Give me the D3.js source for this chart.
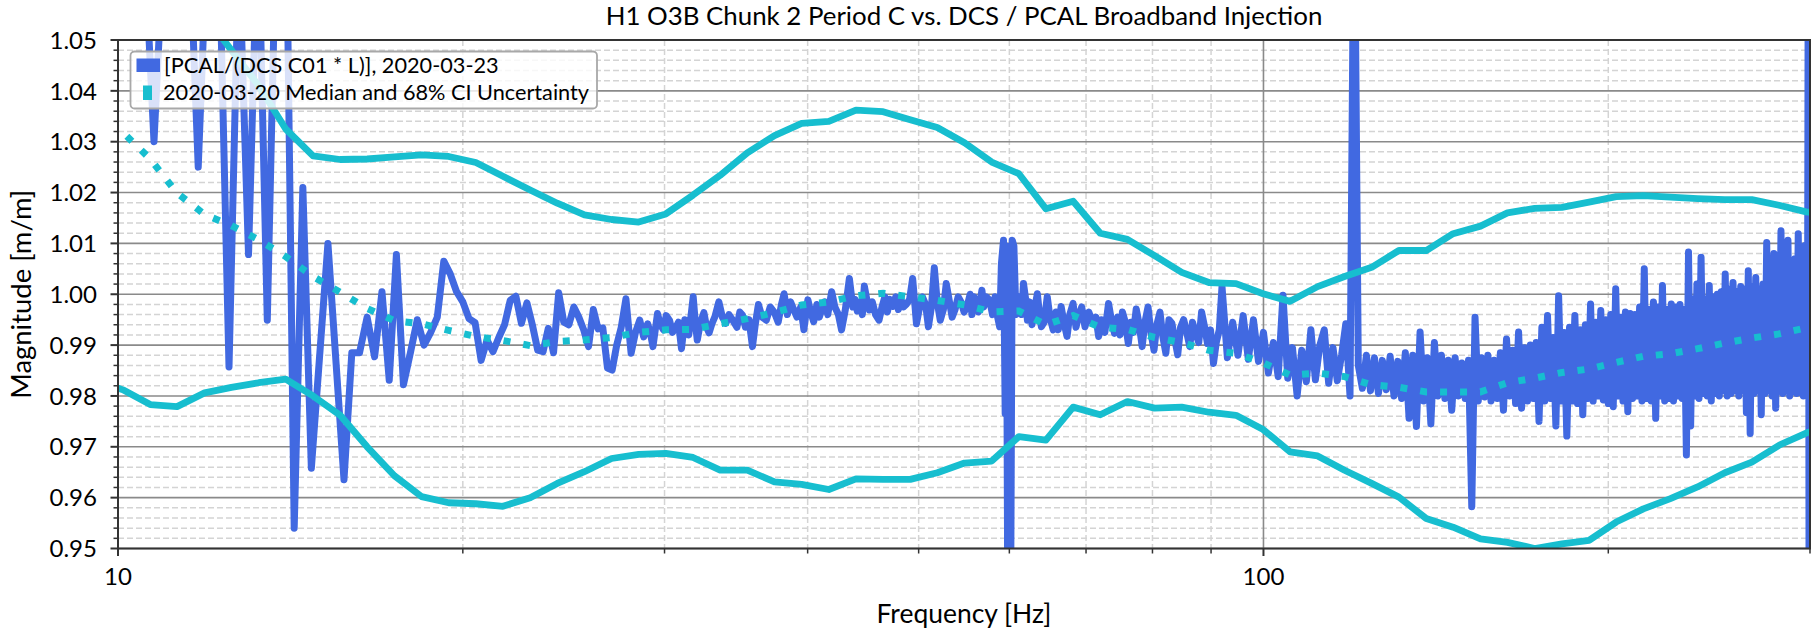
<!DOCTYPE html>
<html>
<head>
<meta charset="utf-8">
<script src="https://cdn.jsdelivr.net/npm/d3@7"></script>
<style>
  body { margin: 0; background: #fff; }
  svg { display: block; }
  text { font-family: Lato, "Noto Sans", sans-serif; fill: #000; }
</style>
</head>
<body>
<svg id="chart" width="1816" height="634"></svg>
<script>
// ---------------- data ----------------
// Broadband sweep ratio PCAL/(DCS C01 * L): [frequency Hz, magnitude m/m]
// 10-27 Hz
const sweepLow = [
  [10.00, 1.0900], [10.25, 1.0850], [10.50, 1.0780], [10.75, 1.0300], [11.00, 1.0760],
  [11.25, 1.0950], [11.50, 1.0800], [11.75, 1.0250], [12.00, 1.0780], [12.25, 1.0700],
  [12.50, 0.9857], [12.75, 1.0680], [13.00, 1.0078], [13.25, 1.0750], [13.50, 0.9949],
  [13.75, 1.0750], [14.00, 1.0900], [14.25, 0.9540], [14.50, 1.0210], [14.75, 0.9658],
  [15.25, 1.0100], [15.75, 0.9635], [16.00, 0.9885], [16.25, 0.9885], [16.50, 0.9955],
  [16.75, 0.9877], [17.00, 1.0005], [17.25, 0.9831], [17.50, 1.0078], [17.75, 0.9822],
  [18.00, 0.9885], [18.25, 0.9950], [18.50, 0.9900], [18.75, 0.9925], [19.00, 0.9955],
  [19.25, 1.0065], [19.50, 1.0040], [19.75, 1.0005], [20.00, 0.9985], [20.25, 0.9952],
  [20.50, 0.9944], [20.75, 0.9870], [21.00, 0.9910], [21.25, 0.9887], [21.50, 0.9915],
  [21.75, 0.9940], [22.00, 0.9988], [22.25, 0.9996], [22.50, 0.9943], [22.75, 0.9983],
  [23.00, 0.9940], [23.25, 0.9890], [23.50, 0.9887], [23.75, 0.9933], [24.00, 0.9885],
  [24.25, 1.0003], [24.50, 0.9945], [24.75, 0.9940], [25.00, 0.9975], [25.25, 0.9955],
  [25.50, 0.9930], [25.75, 0.9897], [26.00, 0.9970], [26.25, 0.9932], [26.50, 0.9934],
  [26.75, 0.9855], [27.00, 0.9851]
];
// 27-60 Hz, including the 60 Hz line
const sweepMid = [
  [27.25, 0.9900], [27.50, 0.9935], [27.76, 0.9991], [28.05, 0.9884], [28.30, 0.9925],
  [28.54, 0.9949], [28.77, 0.9916], [29.00, 0.9942], [29.15, 0.9925], [29.31, 0.9897],
  [29.58, 0.9962], [29.75, 0.9940], [29.94, 0.9930], [30.10, 0.9958], [30.30, 0.9949],
  [30.48, 0.9925], [30.66, 0.9933], [30.85, 0.9945], [31.04, 0.9893], [31.25, 0.9950],
  [31.50, 0.9920], [31.78, 0.9995], [31.90, 0.9950], [32.04, 0.9910], [32.25, 0.9945],
  [32.47, 0.9964], [32.65, 0.9935], [32.81, 0.9924], [33.00, 0.9942], [33.20, 0.9956],
  [33.46, 0.9985], [33.70, 0.9955], [33.94, 0.9943], [34.15, 0.9960], [34.41, 0.9949],
  [34.70, 0.9935], [34.90, 0.9965], [35.09, 0.9959], [35.30, 0.9935], [35.55, 0.9950],
  [35.80, 0.9897], [36.00, 0.9940], [36.23, 0.9980], [36.50, 0.9955], [36.81, 0.9949],
  [37.10, 0.9975], [37.40, 0.9965], [37.70, 0.9945], [37.95, 0.9980], [38.15, 1.0001],
  [38.40, 0.9960], [38.65, 0.9985], [38.91, 0.9969], [39.15, 0.9955], [39.45, 0.9975],
  [39.70, 0.9930], [39.85, 0.9960], [40.02, 0.9989], [40.25, 0.9965], [40.49, 0.9946],
  [40.75, 0.9980], [40.95, 0.9955], [41.14, 0.9969], [41.40, 0.9985], [41.65, 0.9960],
  [41.98, 1.0005], [42.25, 0.9975], [42.55, 0.9960], [42.82, 0.9930], [43.15, 0.9970],
  [43.50, 1.0031], [43.80, 0.9975], [44.00, 0.9990], [44.20, 0.9967], [44.45, 0.9985],
  [44.65, 0.9960], [44.83, 1.0016], [45.05, 0.9990], [45.27, 0.9969], [45.55, 0.9985],
  [45.85, 0.9960], [46.17, 0.9949], [46.45, 0.9975], [46.72, 0.9995], [46.95, 0.9965],
  [47.20, 0.9990], [47.47, 0.9976], [47.75, 0.9995], [48.00, 0.9970], [48.23, 0.9992],
  [48.50, 0.9975], [48.81, 0.9981], [49.10, 0.9990], [49.40, 1.0031], [49.60, 0.9985],
  [49.78, 0.9942], [50.10, 0.9975], [50.38, 0.9995], [50.70, 0.9980], [50.99, 0.9936],
  [51.30, 0.9975], [51.60, 1.0052], [51.90, 0.9985], [52.22, 0.9949], [52.55, 0.9970],
  [52.85, 1.0021], [53.15, 0.9990], [53.48, 0.9955], [53.80, 0.9970], [54.13, 0.9995],
  [54.45, 0.9985], [54.78, 0.9965], [55.10, 0.9975], [55.45, 1.0000], [55.65, 0.9960],
  [55.88, 0.9995], [56.10, 0.9985], [56.40, 0.9965], [56.78, 1.0008], [57.00, 0.9975],
  [57.30, 0.9995], [57.68, 0.9988], [58.00, 0.9960], [58.30, 0.9995], [58.60, 0.9955],
  [58.84, 0.9936], [59.05, 1.0060], [59.30, 1.0106], [59.50, 0.9765], [59.65, 1.0095],
  [59.85, 0.9200], [60.10, 0.9200], [60.35, 1.0106], [60.55, 1.0095]
];
// 60-92 Hz
const sweepUpper = [
  [60.80, 0.9960], [61.24, 0.9995], [61.50, 0.9960], [61.73, 1.0021], [62.00, 0.9990],
  [62.22, 0.9949], [62.50, 0.9985], [62.80, 0.9940], [63.15, 0.9975], [63.48, 1.0001],
  [63.75, 0.9960], [63.99, 0.9936], [64.35, 0.9945], [64.75, 0.9995], [65.10, 0.9955],
  [65.53, 0.9930], [65.90, 0.9965], [66.20, 0.9930], [66.58, 0.9976], [66.95, 0.9945],
  [67.38, 0.9917], [67.75, 0.9960], [68.20, 0.9982], [68.60, 0.9935], [69.01, 0.9960],
  [69.40, 0.9975], [69.85, 0.9936], [70.40, 0.9965], [70.96, 0.9943], [71.40, 0.9955],
  [71.80, 0.9917], [72.20, 0.9950], [72.70, 0.9925], [73.24, 0.9982], [73.65, 0.9950],
  [74.12, 0.9923], [74.60, 0.9955], [74.95, 0.9920], [75.31, 0.9965], [75.75, 0.9945],
  [76.21, 0.9903], [76.60, 0.9945], [77.00, 0.9925], [77.43, 0.9971], [77.90, 0.9940],
  [78.36, 0.9897], [78.80, 0.9945], [79.29, 0.9975], [79.75, 0.9925], [80.25, 0.9890],
  [80.70, 0.9940], [81.22, 0.9965], [81.70, 0.9915], [82.18, 0.9884], [82.70, 0.9950],
  [83.18, 0.9943], [83.70, 0.9910], [84.17, 0.9881], [84.65, 0.9935], [85.18, 0.9950],
  [85.70, 0.9925], [86.23, 0.9897], [86.70, 0.9945], [87.25, 0.9923], [87.80, 0.9905],
  [88.30, 0.9965], [88.85, 0.9935], [89.36, 0.9903], [89.90, 0.9930], [90.44, 0.9864],
  [90.95, 0.9905], [91.50, 0.9930]
];
// 92-298 Hz, one reading per hertz
const sweepHighStartHz = 92;
const sweepHighMag = [
  1.0015, 0.9875, 0.9945, 0.9880, 0.9958, 0.9872, 0.9950, 0.9868, 0.9925, 0.9845,
  0.9905, 0.9838, 0.9998, 0.9835, 0.9895, 0.9800, 0.9890, 0.9828, 0.9930, 0.9832,
  0.9900, 0.9930, 0.9825, 0.9895, 0.9830, 0.9880, 0.9942, 0.9800, 1.0850, 0.9860,
  0.9815, 0.9880, 0.9810, 0.9875, 0.9805, 0.9870, 0.9812, 0.9878, 0.9800, 0.9868,
  0.9795, 0.9885, 0.9756, 0.9880, 0.9740, 0.9926, 0.9790, 0.9875, 0.9745, 0.9905,
  0.9800, 0.9880, 0.9795, 0.9870, 0.9772, 0.9875, 0.9800, 0.9865, 0.9795, 0.9870,
  0.9582, 0.9955, 0.9790, 0.9875, 0.9798, 0.9880, 0.9790, 0.9870, 0.9795, 0.9885,
  0.9772, 0.9912, 0.9800, 0.9890, 0.9785, 0.9926, 0.9776, 0.9895, 0.9790, 0.9900,
  0.9795, 0.9905, 0.9750, 0.9935, 0.9790, 0.9958, 0.9795, 0.9915, 0.9741, 0.9997,
  0.9790, 0.9925, 0.9721, 0.9935, 0.9790, 0.9958, 0.9785, 0.9930, 0.9763, 0.9940,
  0.9795, 0.9981, 0.9790, 0.9945, 0.9800, 0.9968, 0.9792, 0.9950, 0.9785, 0.9960,
  0.9779, 1.0011, 0.9800, 0.9955, 0.9790, 0.9965, 0.9769, 0.9962, 0.9795, 0.9960,
  0.9800, 0.9975, 0.9790, 1.0050, 0.9795, 0.9970, 0.9790, 0.9985, 0.9756, 0.9975,
  0.9800, 1.0017, 0.9790, 0.9970, 0.9795, 0.9981, 0.9790, 0.9975, 0.9800, 0.9980,
  0.9795, 0.9970, 0.9684, 1.0083, 0.9741, 0.9990, 0.9800, 1.0020, 0.9795, 1.0073,
  0.9805, 0.9990, 0.9800, 1.0017, 0.9790, 0.9995, 0.9805, 1.0000, 0.9800, 1.0005,
  0.9810, 1.0040, 0.9800, 1.0010, 0.9805, 1.0023, 0.9810, 1.0005, 0.9800, 1.0015,
  0.9810, 1.0010, 0.9767, 1.0046, 0.9726, 1.0015, 0.9805, 1.0033, 0.9810, 1.0010,
  0.9763, 1.0020, 0.9805, 1.0102, 0.9810, 1.0040, 0.9800, 1.0080, 0.9776, 1.0050,
  0.9810, 1.0125, 0.9805, 1.0060, 0.9815, 1.0106, 0.9800, 1.0050, 0.9810, 1.0070,
  0.9805, 1.0119, 0.9810, 1.0060, 0.9800, 1.0096, 0.9815
];
// Last samples at the top of the band
const sweepEdge = [[298.5, 0.9900], [299.0, 1.0800], [299.5, 0.9200], [300.0, 0.9900]];

// Uncertainty model nodes (Hz) with median and 68% CI bounds
const modelHz = [
  9.564, 10.10, 10.67, 11.26, 11.90, 12.56, 13.27, 14.01, 14.80, 15.63,
  16.50, 17.43, 18.41, 19.44, 20.53, 21.68, 22.90, 24.18, 25.54, 26.97,
  28.48, 30.08, 31.77, 33.55, 35.43, 37.42, 39.52, 41.74, 44.08, 46.55,
  49.16, 51.91, 54.83, 57.91, 61.16, 64.58, 68.21, 72.03, 76.07, 80.34,
  84.85, 89.61, 94.63, 99.94, 105.5, 111.5, 117.7, 124.3, 131.3, 138.7,
  146.4, 154.7, 163.3, 172.5, 182.2, 192.4, 203.2, 214.6, 226.6, 239.3,
  252.8, 266.9, 281.9, 297.7, 314.4
];
const modelUpper = [
  1.0750, 1.0700, 1.0650, 1.0600, 1.0550, 1.0480, 1.0410, 1.0325, 1.0272, 1.0265,
  1.0266, 1.0270, 1.0274, 1.0271, 1.0259, 1.0232, 1.0205, 1.0179, 1.0156, 1.0147,
  1.0142, 1.0158, 1.0195, 1.0234, 1.0278, 1.0312, 1.0336, 1.0340, 1.0362, 1.0359,
  1.0343, 1.0328, 1.0298, 1.0260, 1.0237, 1.0168, 1.0183, 1.0120, 1.0108, 1.0076,
  1.0043, 1.0023, 1.0021, 1.0001, 0.9986, 1.0015, 1.0035, 1.0053, 1.0086, 1.0086,
  1.0119, 1.0134, 1.0160, 1.0169, 1.0171, 1.0181, 1.0192, 1.0194, 1.0191, 1.0188,
  1.0186, 1.0186, 1.0175, 1.0162, 1.0155
];
const modelLower = [
  0.9830, 0.9812, 0.9783, 0.9779, 0.9806, 0.9817, 0.9826, 0.9833, 0.9800, 0.9762,
  0.9700, 0.9643, 0.9602, 0.9590, 0.9588, 0.9583, 0.9600, 0.9628, 0.9651, 0.9677,
  0.9685, 0.9687, 0.9679, 0.9654, 0.9654, 0.9631, 0.9626, 0.9616, 0.9637, 0.9636,
  0.9636, 0.9649, 0.9668, 0.9672, 0.9720, 0.9713, 0.9778, 0.9763, 0.9789, 0.9776,
  0.9778, 0.9768, 0.9762, 0.9734, 0.9690, 0.9682, 0.9654, 0.9628, 0.9601, 0.9559,
  0.9542, 0.9519, 0.9512, 0.9500, 0.9509, 0.9516, 0.9552, 0.9578, 0.9598, 0.9621,
  0.9649, 0.9670, 0.9703, 0.9727, 0.9745
];
const modelMedian = [
  1.0360, 1.0318, 1.0266, 1.0199, 1.0157, 1.0135, 1.0107, 1.0074, 1.0035, 1.0004,
  0.9972, 0.9948, 0.9942, 0.9929, 0.9917, 0.9909, 0.9899, 0.9907, 0.9910, 0.9915,
  0.9925, 0.9930, 0.9931, 0.9942, 0.9952, 0.9964, 0.9979, 0.9985, 0.9997, 1.0002,
  0.9995, 0.9988, 0.9979, 0.9965, 0.9967, 0.9940, 0.9958, 0.9935, 0.9931, 0.9915,
  0.9905, 0.9890, 0.9884, 0.9865, 0.9841, 0.9845, 0.9838, 0.9822, 0.9817, 0.9808,
  0.9808, 0.9808, 0.9826, 0.9835, 0.9846, 0.9853, 0.9866, 0.9878, 0.9883, 0.9893,
  0.9904, 0.9914, 0.9922, 0.9934, 0.9945
];

// Axes ticks and labels
const xMajorTicks = [10, 100];
const xMinorTicks = [20, 30, 40, 50, 60, 70, 80, 90, 200, 300];
const yMajorTicks = [0.95, 0.96, 0.97, 0.98, 0.99, 1.00, 1.01, 1.02, 1.03, 1.04, 1.05];

const titleText = "H1 O3B Chunk 2 Period C vs. DCS / PCAL Broadband Injection";
const xLabelText = "Frequency [Hz]";
const yLabelText = "Magnitude [m/m]";
const legendLabels = ["[PCAL/(DCS C01 * L)], 2020-03-23", "2020-03-20 Median and 68% CI Uncertainty"];

// ---------------- layout ----------------
const C = { blue: "#4169e1", cyan: "#17becf", majorGrid: "#8a8a8a", minorGrid: "#d4d4d4", spine: "#333" };
const box = { left: 118, right: 1810, top: 40, bottom: 548.5 };

const svg = d3.select("#chart");
const x = d3.scaleLog().domain([10, 300]).range([box.left, box.right]);
const y = d3.scaleLinear().domain([0.95, 1.05]).range([box.bottom, box.top]);

svg.append("defs").append("clipPath").attr("id", "plotClip")
  .append("rect").attr("x", box.left).attr("y", box.top)
  .attr("width", box.right - box.left).attr("height", box.bottom - box.top);

// scales a text element's font size so that it spans the given width
function fitWidth(sel, target) {
  const w = sel.node().getComputedTextLength();
  const fs = parseFloat(sel.attr("font-size"));
  sel.attr("font-size", (fs * target / w).toFixed(2));
  return +sel.attr("font-size");
}

// ---------------- grid ----------------
const grid = svg.append("g");
const yMinor = y.ticks(50).filter(v => Math.abs(v * 100 - Math.round(v * 100)) > 1e-6);
grid.selectAll(".ymin").data(yMinor).join("line")
  .attr("x1", box.left).attr("x2", box.right)
  .attr("y1", d => y(d)).attr("y2", d => y(d))
  .attr("stroke", C.minorGrid).attr("stroke-width", 1.5).attr("stroke-dasharray", "6,3");
grid.selectAll(".xmin").data(xMinorTicks).join("line")
  .attr("x1", d => x(d)).attr("x2", d => x(d))
  .attr("y1", box.top).attr("y2", box.bottom)
  .attr("stroke", C.minorGrid).attr("stroke-width", 1.5).attr("stroke-dasharray", "6,3");
grid.selectAll(".ymaj").data(yMajorTicks).join("line")
  .attr("x1", box.left).attr("x2", box.right)
  .attr("y1", d => y(d)).attr("y2", d => y(d))
  .attr("stroke", C.majorGrid).attr("stroke-width", 1.6);
grid.selectAll(".xmaj").data(xMajorTicks).join("line")
  .attr("x1", d => x(d)).attr("x2", d => x(d))
  .attr("y1", box.top).attr("y2", box.bottom)
  .attr("stroke", C.majorGrid).attr("stroke-width", 1.6);

// ---------------- series ----------------
const sweep = sweepLow.concat(sweepMid, sweepUpper,
    sweepHighMag.map((v, i) => [sweepHighStartHz + i, v]), sweepEdge)
  .sort((a, b) => a[0] - b[0]);
const upper = modelHz.map((f, i) => [f, modelUpper[i]]);
const lower = modelHz.map((f, i) => [f, modelLower[i]]);
const median = modelHz.map((f, i) => [f, modelMedian[i]]);

const line = d3.line().x(d => x(d[0])).y(d => y(d[1]));
const plot = svg.append("g").attr("clip-path", "url(#plotClip)");

plot.append("path").datum(sweep).attr("d", line)
  .attr("fill", "none").attr("stroke", C.blue).attr("stroke-width", 7)
  .attr("stroke-linejoin", "round").attr("stroke-linecap", "round");
[upper, lower].forEach(band => {
  plot.append("path").datum(band).attr("d", line)
    .attr("fill", "none").attr("stroke", C.cyan).attr("stroke-width", 6.8)
    .attr("stroke-linejoin", "round");
});
plot.append("path").datum(median).attr("d", line)
  .attr("fill", "none").attr("stroke", C.cyan).attr("stroke-width", 7)
  .attr("stroke-dasharray", "7,13");

// ---------------- axes ----------------
const axes = svg.append("g");

// frame
axes.append("rect").attr("x", box.left).attr("y", box.top)
  .attr("width", box.right - box.left).attr("height", box.bottom - box.top)
  .attr("fill", "none").attr("stroke", C.spine).attr("stroke-width", 2);

// y ticks
axes.selectAll(".ytm").data(yMinor).join("line")
  .attr("x1", box.left - 4.5).attr("x2", box.left)
  .attr("y1", d => y(d)).attr("y2", d => y(d)).attr("stroke", C.spine).attr("stroke-width", 1.5);
axes.selectAll(".ytM").data(yMajorTicks).join("line")
  .attr("x1", box.left - 7.5).attr("x2", box.left)
  .attr("y1", d => y(d)).attr("y2", d => y(d)).attr("stroke", C.spine).attr("stroke-width", 2);
const yLabels = axes.selectAll(".ytl").data(yMajorTicks).join("text")
  .attr("x", box.left - 21).attr("y", d => y(d)).attr("dy", "0.36em")
  .attr("text-anchor", "end").attr("font-size", 23)
  .text(d => d3.format(".2f")(d));
const tickSize = fitWidth(yLabels.filter((d, i) => i === yMajorTicks.length - 1), 47.5);
yLabels.attr("font-size", tickSize);

// x ticks
axes.selectAll(".xtm").data(xMinorTicks).join("line")
  .attr("x1", d => x(d)).attr("x2", d => x(d))
  .attr("y1", box.bottom).attr("y2", box.bottom + 5).attr("stroke", C.spine).attr("stroke-width", 1.5);
axes.selectAll(".xtM").data(xMajorTicks).join("line")
  .attr("x1", d => x(d)).attr("x2", d => x(d))
  .attr("y1", box.bottom).attr("y2", box.bottom + 7.5).attr("stroke", C.spine).attr("stroke-width", 2);
axes.selectAll(".xtl").data(xMajorTicks).join("text")
  .attr("x", d => x(d)).attr("y", box.bottom + 36.5)
  .attr("text-anchor", "middle").attr("font-size", tickSize)
  .text(d => d);

// axis titles
const xl = svg.append("text").attr("x", (box.left + box.right) / 2).attr("y", 622.5)
  .attr("text-anchor", "middle").attr("font-size", 24).text(xLabelText);
const labelSize = fitWidth(xl, 175);
svg.append("text").attr("transform", `translate(31,${(box.top + box.bottom) / 2}) rotate(-90)`)
  .attr("text-anchor", "middle").attr("font-size", labelSize + 1).text(yLabelText);

const title = svg.append("text").attr("x", (box.left + box.right) / 2).attr("y", 25)
  .attr("text-anchor", "middle").attr("font-size", 24).text(titleText);
fitWidth(title, 717);

// ---------------- legend ----------------
const lg = svg.append("g");
lg.append("rect").attr("x", 130.5).attr("y", 51.5).attr("width", 466.5).attr("height", 57)
  .attr("rx", 4).attr("fill", "#fff").attr("fill-opacity", 0.8)
  .attr("stroke", "#a8a8a8").attr("stroke-width", 1.8);
lg.append("rect").attr("x", 136.5).attr("y", 58.5).attr("width", 23.5).attr("height", 13.5)
  .attr("fill", C.blue);
lg.append("rect").attr("x", 143).attr("y", 85.5).attr("width", 9).attr("height", 14.5)
  .attr("fill", C.cyan);
const lt1 = lg.append("text").attr("x", 164).attr("y", 72.5).attr("font-size", 20).text(legendLabels[0]);
const lt2 = lg.append("text").attr("x", 163).attr("y", 99.5).attr("font-size", 20).text(legendLabels[1]);
const legSize = fitWidth(lt2, 426);
lt1.attr("font-size", legSize);
</script>
</body>
</html>
